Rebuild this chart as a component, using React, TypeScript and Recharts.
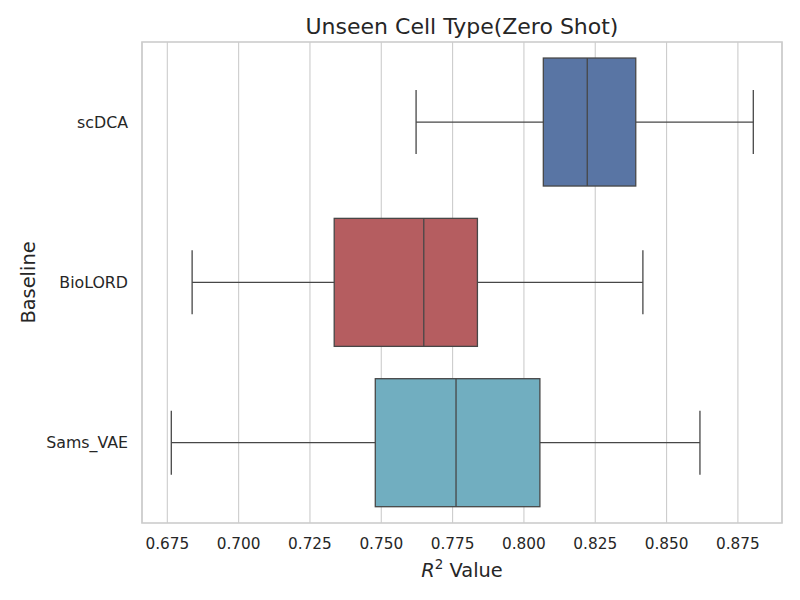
import { Bar, BarChart, CartesianGrid, XAxis, YAxis } from "recharts";

const baselines = ["scDCA", "BioLORD", "Sams_VAE"];
const whiskerLow = [0.7622, 0.6837, 0.6764];
const q1 = [0.8068, 0.7335, 0.7479];
const median = [0.8222, 0.7649, 0.7762];
const q3 = [0.8392, 0.7837, 0.8056];
const whiskerHigh = [0.8804, 0.8417, 0.8617];
const colors = ["#5975a4", "#b55d60", "#71aec0"];
const xTicks = [0.675, 0.7, 0.725, 0.75, 0.775, 0.8, 0.825, 0.85, 0.875];

const data = baselines.map((name, i) => ({
  name,
  lo: whiskerLow[i],
  q1: q1[i],
  med: median[i],
  q3: q3[i],
  hi: whiskerHigh[i],
  color: colors[i],
}));

const LINE = "#474747";
const FONT = "DejaVu Sans";

// draws one box + whiskers, mapping values inside the [lo, hi] range bar
function BoxShape(props: any) {
  const { x, y, width, height, payload } = props;
  const p = payload;
  const px = (v: number) => x + ((v - p.lo) / (p.hi - p.lo)) * width;
  const cy = y + height / 2;
  const capH = height / 4;
  return (
    <g>
      <line x1={px(p.lo)} x2={px(p.q1)} y1={cy} y2={cy} stroke={LINE} strokeWidth={1.3} />
      <line x1={px(p.q3)} x2={px(p.hi)} y1={cy} y2={cy} stroke={LINE} strokeWidth={1.3} />
      <line x1={px(p.lo)} x2={px(p.lo)} y1={cy - capH} y2={cy + capH} stroke={LINE} strokeWidth={1.3} />
      <line x1={px(p.hi)} x2={px(p.hi)} y1={cy - capH} y2={cy + capH} stroke={LINE} strokeWidth={1.3} />
      <rect
        x={px(p.q1)}
        y={y}
        width={px(p.q3) - px(p.q1)}
        height={height}
        fill={p.color}
        stroke={LINE}
        strokeWidth={1.3}
      />
      <line x1={px(p.med)} x2={px(p.med)} y1={y} y2={y + height} stroke={LINE} strokeWidth={1.3} />
    </g>
  );
}

export default function App() {
  return (
    <div style={{ position: "absolute", left: 0, top: 0, width: 800, height: 600, background: "#fff" }}>
      <BarChart
        width={800}
        height={600}
        data={data}
        layout="vertical"
        margin={{ top: 42, right: 18, bottom: 47, left: 0 }}
        barCategoryGap="10%"
      >
        <CartesianGrid horizontal={false} stroke="#cccccc" strokeWidth={1.1} />
        <XAxis
          type="number"
          domain={[0.66613, 0.89046]}
          ticks={xTicks}
          tickFormatter={(v: number) => v.toFixed(3)}
          allowDataOverflow
          height={30}
          tickLine={false}
          tickSize={0}
          tickMargin={15}
          axisLine={false}
          tick={{ fill: "#262626", fontSize: 15.3, fontFamily: FONT }}
        />
        <YAxis
          type="category"
          dataKey="name"
          width={142}
          tickLine={false}
          tickSize={0}
          tickMargin={14}
          axisLine={false}
          tick={{ fill: "#262626", fontSize: 15.8, fontFamily: FONT }}
        />
        <Bar dataKey={(d: any) => [d.lo, d.hi]} shape={BoxShape} isAnimationActive={false} />
      </BarChart>
      <svg
        width={800}
        height={600}
        style={{ position: "absolute", left: 0, top: 0, pointerEvents: "none" }}
        fontFamily={FONT}
        fill="#262626"
      >
        <rect x={142} y={42} width={640} height={481} fill="none" stroke="#cccccc" strokeWidth={1.6} />
        <text x={462} y={34} textAnchor="middle" fontSize={22}>
          Unseen Cell Type(Zero Shot)
        </text>
        <text x={462} y={577} textAnchor="middle" fontSize={19.4}>
          <tspan fontStyle="italic">R</tspan>
          <tspan fontSize={13.5} dy={-8}>2</tspan>
          <tspan dy={8}> Value</tspan>
        </text>
        <text x={35} y={282.5} textAnchor="middle" fontSize={19.4} transform="rotate(-90 35 282.5)">
          Baseline
        </text>
      </svg>
    </div>
  );
}
